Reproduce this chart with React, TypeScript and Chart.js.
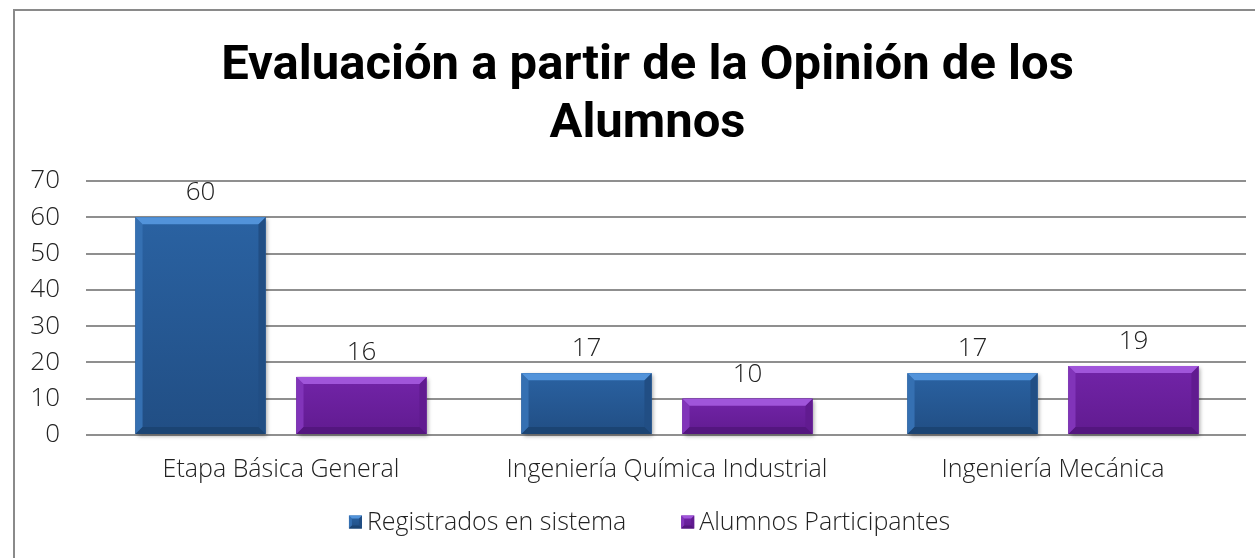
import { useEffect, useRef } from "react";
import { Chart, registerables } from "chart.js";

Chart.register(...registerables);

const categories = ["Etapa Básica General", "Ingeniería Química Industrial", "Ingeniería Mecánica"];
const seriesNames = ["Registrados en sistema", "Alumnos Participantes"];
const registrados = [60, 17, 17];
const participantes = [16, 10, 19];
const titleLines = ["Evaluación a partir de la Opinión de los", "Alumnos"];
const yMin = 0;
const yMax = 70;
const yStep = 10;

const palettes = [
  { face: "#2a62a2", top: "#5293da", bottom: "#1b4473", left: "#3570b2", right: "#214e84" },
  { face: "#7224a8", top: "#a055da", bottom: "#54167f", left: "#8134b9", right: "#611b90" },
];

const W = 1255;
const H = 558;
const textFont = "'Open Sans', 'Noto Sans', sans-serif";
const titleFont = "bold 49px Roboto, 'Open Sans', sans-serif";

function poly(ctx: CanvasRenderingContext2D, pts: number[][], color: string) {
  ctx.beginPath();
  ctx.moveTo(pts[0][0], pts[0][1]);
  for (let k = 1; k < pts.length; k++) ctx.lineTo(pts[k][0], pts[k][1]);
  ctx.closePath();
  ctx.fillStyle = color;
  ctx.fill();
}

function bevelRect(ctx: CanvasRenderingContext2D, l: number, t: number, w: number, h: number, p: any, size: number) {
  const r = l + w;
  const b = t + h;
  const s = Math.min(size, h / 2, w / 2);
  const g = ctx.createLinearGradient(0, t, 0, b);
  g.addColorStop(0, p.face);
  g.addColorStop(1, p.right);
  ctx.fillStyle = g;
  ctx.fillRect(l, t, w, h);
  poly(ctx, [[l, t], [l + s, t + s], [l + s, b - s], [l, b]], p.left);
  poly(ctx, [[r, t], [r - s, t + s], [r - s, b - s], [r, b]], p.right);
  poly(ctx, [[l, t], [r, t], [r - s, t + s], [l + s, t + s]], p.top);
  poly(ctx, [[l, b], [r, b], [r - s, b - s], [l + s, b - s]], p.bottom);
}

const shadowPlugin = {
  id: "barShadow",
  beforeDatasetsDraw(chart: any) {
    const ctx = chart.ctx;
    chart.data.datasets.forEach((_: any, i: number) => {
      const meta = chart.getDatasetMeta(i);
      meta.data.forEach((bar: any) => {
        const { x, y, base, width } = bar.getProps(["x", "y", "base", "width"], true);
        ctx.save();
        ctx.shadowColor = "rgba(0,0,0,0.35)";
        ctx.shadowBlur = 4;
        ctx.shadowOffsetX = 2;
        ctx.shadowOffsetY = 2;
        ctx.fillStyle = palettes[i].face;
        ctx.fillRect(x - width / 2, y, width, base - y);
        ctx.restore();
      });
    });
  },
};

const bevelPlugin = {
  id: "bevel",
  afterDatasetsDraw(chart: any) {
    const ctx = chart.ctx;
    chart.data.datasets.forEach((_: any, i: number) => {
      const meta = chart.getDatasetMeta(i);
      meta.data.forEach((bar: any) => {
        const { x, y, base, width } = bar.getProps(["x", "y", "base", "width"], true);
        bevelRect(ctx, x - width / 2, y, width, base - y, palettes[i], 7);
      });
    });
  },
};

const valueLabelPlugin = {
  id: "valueLabels",
  afterDatasetsDraw(chart: any) {
    const ctx = chart.ctx;
    ctx.save();
    ctx.font = `300 26px ${textFont}`;
    ctx.fillStyle = "#222";
    ctx.textAlign = "center";
    ctx.textBaseline = "alphabetic";
    chart.data.datasets.forEach((ds: any, i: number) => {
      const meta = chart.getDatasetMeta(i);
      meta.data.forEach((bar: any, j: number) => {
        ctx.fillText(String(ds.data[j]), bar.x, bar.y - 17);
      });
    });
    ctx.restore();
  },
};

const titleLegendPlugin = {
  id: "titleLegend",
  afterDraw(chart: any) {
    const ctx = chart.ctx;
    const cx = chart.width / 2 + 20;
    ctx.save();
    // title
    ctx.font = titleFont;
    ctx.fillStyle = "#000";
    ctx.textAlign = "center";
    ctx.textBaseline = "middle";
    titleLines.forEach((line, k) => ctx.fillText(line, cx, 67 + k * 58));
    // legend
    ctx.font = `300 25px ${textFont}`;
    const box = 13;
    const gap = 5;
    const itemGap = 55;
    const widths = seriesNames.map((n) => ctx.measureText(n).width);
    const total = widths.reduce((a, w) => a + box + gap + w, 0) + itemGap * (seriesNames.length - 1);
    let x = cx - total / 2 + 2;
    const cy = 522;
    ctx.textAlign = "left";
    ctx.textBaseline = "middle";
    seriesNames.forEach((n, i) => {
      bevelRect(ctx, x, cy - box / 2, box, box, palettes[i], 3);
      ctx.fillStyle = "#222";
      ctx.fillText(n, x + box + gap, cy + 1);
      x += box + gap + widths[i] + itemGap;
    });
    ctx.restore();
  },
};

export default function App() {
  const canvasRef = useRef<HTMLCanvasElement | null>(null);

  useEffect(() => {
    if (!canvasRef.current) return;
    const chart = new Chart(canvasRef.current, {
      type: "bar",
      data: {
        labels: categories,
        datasets: [
          { label: seriesNames[0], data: registrados, backgroundColor: palettes[0].face },
          { label: seriesNames[1], data: participantes, backgroundColor: palettes[1].face },
        ],
      },
      options: {
        responsive: false,
        animation: false,
        devicePixelRatio: 1,
        datasets: {
          bar: { categoryPercentage: 0.834, barPercentage: 0.807 },
        },
        layout: { padding: { left: 0, right: 9, top: 181, bottom: 66 } },
        plugins: {
          tooltip: { enabled: false },
          title: { display: false },
          legend: { display: false },
        },
        scales: {
          x: {
            grid: { display: false, drawTicks: false },
            border: { display: false },
            ticks: { color: "#222", font: { family: textFont, size: 25, weight: "300" as any }, padding: 20, maxRotation: 0 },
            afterFit: (s: any) => {
              s.height = 57;
            },
          },
          y: {
            min: yMin,
            max: yMax,
            grid: { color: "#8f8f8f", lineWidth: 2, tickLength: 2 },
            border: { display: false },
            ticks: { stepSize: yStep, color: "#222", font: { family: textFont, size: 26, weight: "300" as any }, padding: 26 },
            afterFit: (s: any) => {
              s.width = 88;
            },
          },
        },
      },
      plugins: [shadowPlugin, bevelPlugin, valueLabelPlugin, titleLegendPlugin],
    });
    return () => chart.destroy();
  }, []);

  return (
    <div style={{ position: "fixed", left: 0, top: 0, width: W, height: H, overflow: "hidden", background: "#fff" }}>
      <div
        style={{
          position: "absolute",
          left: 13,
          top: 9,
          width: W + 20,
          height: H + 20,
          borderLeft: "2px solid #8a8a8a",
          borderTop: "2px solid #8a8a8a",
        }}
      />
      <canvas ref={canvasRef} width={W} height={H} style={{ position: "absolute", left: 0, top: 0, width: W, height: H }} />
    </div>
  );
}
